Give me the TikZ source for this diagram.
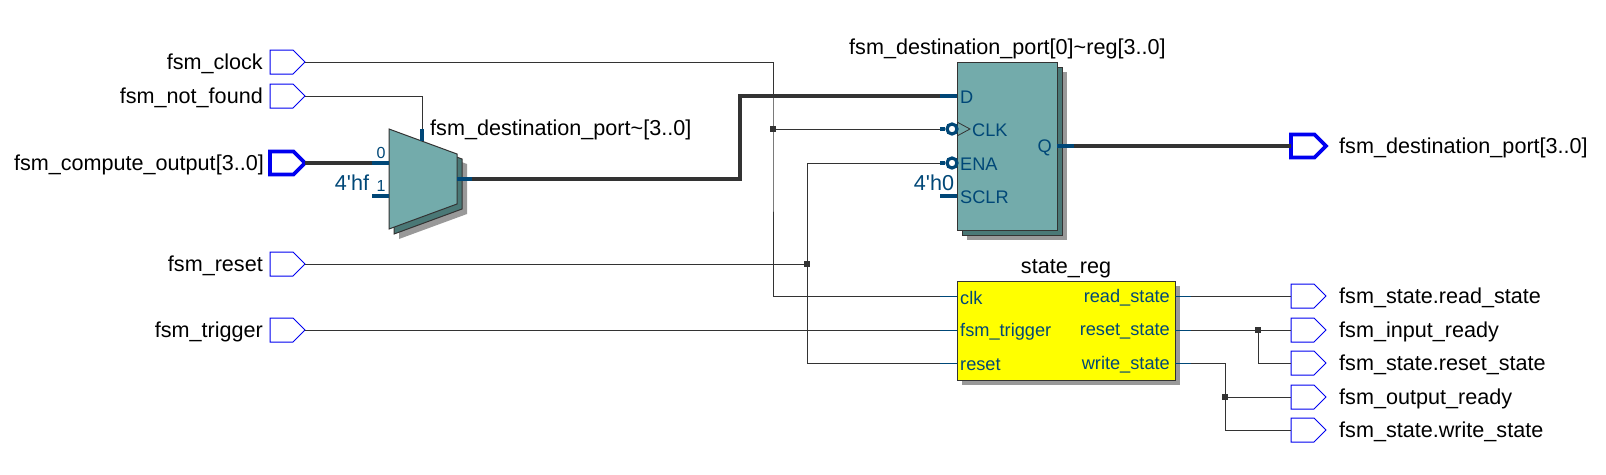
\documentclass[tikz,border=0pt]{standalone}
\usepackage{fontspec}
\setmainfont{Liberation Sans}
\usetikzlibrary{positioning,shapes.symbols}
\definecolor{pinblue}{HTML}{0000F0}
\definecolor{wirecol}{HTML}{333333}
\definecolor{portcol}{HTML}{004777}
\definecolor{bodycol}{HTML}{73ABAB}
\definecolor{backcol}{HTML}{4A7876}
\definecolor{shadecol}{HTML}{999999}
\definecolor{yellowcol}{HTML}{FFFF00}

\begin{document}
\begin{tikzpicture}[x=1pt,y=-1pt,
        pin/.style={signal,signal to=east,signal from=nowhere,draw=pinblue,fill=white,line width=1pt,
          minimum width=35pt,minimum height=24pt,inner sep=0pt,outer sep=0pt,anchor=west},
        buspin/.style={pin,line width=3.6pt,minimum width=35pt,minimum height=23pt},
        lbl/.style={font=\fontsize{21.6}{24}\selectfont,text=black,inner sep=0pt,yshift=-2pt},
        port/.style={font=\fontsize{18.2}{20}\selectfont,text=portcol,inner sep=0pt,yshift=-1.5pt},
        const/.style={font=\fontsize{21.6}{24}\selectfont,text=portcol,inner sep=0pt},
        wire/.style={draw=wirecol,line width=1pt},
        bus/.style={draw=wirecol,line width=4pt},
        stub/.style={draw=portcol,line width=1pt},
        busstub/.style={draw=portcol,line width=3.6pt},
        junction/.style={fill=wirecol,minimum size=5.5pt,inner sep=0pt},
        bubble/.style={circle,draw=portcol,fill=white,line width=3.2pt,minimum size=10pt,inner sep=0pt},
        block/.style={draw=wirecol,line width=1pt,inner sep=0pt,outer sep=0pt},
        arr/.style={draw=wirecol,line width=0.8pt}]
        \useasboundingbox (0,0) rectangle (1606,474);
        % input pins
        \node[pin](clockpin) at (270,62){};
        \node[pin](notfoundpin) at (270,96){};
        \node[buspin](computepin) at (270,163){};
        \node[pin](resetpin) at (270,264){};
        \node[pin](triggerpin) at (270,330){};
        \node[lbl,left=7pt of clockpin](clocklbl){fsm\_clock};
        \node[lbl,left=7pt of notfoundpin](notfoundlbl){fsm\_not\_found};
        \node[lbl,left=6pt of computepin](computelbl){fsm\_compute\_output[3..0]};
        \node[lbl,left=7pt of resetpin](resetlbl){fsm\_reset};
        \node[lbl,left=7pt of triggerpin](triggerlbl){fsm\_trigger};
        % mux
        \fill[shadecol] (399,139)--(467,164)--(467,214)--(399,239)--cycle;
        \draw[block,fill=backcol] (394,134)--(462,159)--(462,209)--(394,234)--cycle;
        \draw[block,fill=bodycol] (389,129)--(457,154)--(457,204)--(389,229)--cycle;
        \coordinate (muxsel) at (422,141);
        \coordinate (seltop) at (422,129);
        \coordinate (muxa) at (389,163);
        \coordinate (muxb) at (389,196);
        \coordinate (muxout) at (457,179);
        \coordinate (astub) at (372,163);
        \coordinate (bstub) at (372,196);
        \coordinate (outstub) at (472,179);
        \node[port,font=\fontsize{16}{18}\selectfont](zero) at (381,151){0};
        \node[port,font=\fontsize{16}{18}\selectfont](one) at (381,184){1};
        \node[const](hf) at (352,183){4\textquotesingle hf};
        \node[lbl,anchor=west](muxlbl) at (430,128){fsm\_destination\_port\textasciitilde[3..0]};
        % register
        \node[fill=shadecol,minimum width=100pt,minimum height=168pt,inner sep=0pt,outer sep=0pt](regshade) at (1017,156){};
        \node[block,fill=backcol,minimum width=100pt,minimum height=168pt](regback) at (1012,151){};
        \node[block,fill=bodycol,minimum width=100pt,minimum height=168pt](reg) at (1007,146){};
        \node[lbl,anchor=west](reglbl) at (849,47){fsm\_destination\_port[0]\textasciitilde reg[3..0]};
        \node[port,anchor=west](dport) at (960,96){D};
        \node[port,anchor=west](clkport) at (972,129){CLK};
        \node[port,anchor=west](enaport) at (960,163){ENA};
        \node[port,anchor=west](sclrport) at (960,196){SCLR};
        \node[port,anchor=east](qport) at (1052,146){Q};
        \node[const](hzero) at (934,183){4\textquotesingle h0};
        \coordinate (clktop) at (957,122);
        \coordinate (clkbot) at (957,136);
        \coordinate (clktip) at (970,129);
        \draw[arr] (clktop)--(clktip)--(clkbot);
        \node[bubble](clkbubble) at (952,129){};
        \node[bubble](enabubble) at (952,163){};
        \coordinate (dstub) at (940,96);
        \coordinate (clkstub) at (940,129);
        \coordinate (enastub) at (940,163);
        \coordinate (sclrstub) at (940,196);
        \coordinate (qstub) at (1074,146);
        % state machine
        \node[fill=shadecol,minimum width=218pt,minimum height=99pt,inner sep=0pt,outer sep=0pt](stateshade) at (1071,335.5){};
        \node[block,fill=yellowcol,minimum width=218pt,minimum height=99pt](statereg) at (1066,330.5){};
        \node[lbl,above=5pt of statereg](statelbl){state\_reg};
        \node[port,anchor=west](sclk) at (960,296){clk};
        \node[port,anchor=west](strigger) at (960,330){fsm\_trigger};
        \node[port,anchor=west](sreset) at (960,363){reset};
        \node[port,anchor=east](sread) at (1170,296){read\_state};
        \node[port,anchor=east](sresetst) at (1170,330){reset\_state};
        \node[port,anchor=east](swrite) at (1170,363){write\_state};
        \coordinate (clkin) at (940,296);
        \coordinate (trigin) at (940,330);
        \coordinate (rstin) at (940,363);
        \coordinate (readout) at (1191,296);
        \coordinate (rstout) at (1191,330);
        \coordinate (writeout) at (1191,363);
        % output pins
        \node[buspin](destpin) at (1291,146){};
        \node[pin](readpin) at (1291,296){};
        \node[pin](inputpin) at (1291,330){};
        \node[pin](resetstpin) at (1291,363){};
        \node[pin](outputpin) at (1291,397){};
        \node[pin](writepin) at (1291,430){};
        \node[lbl,right=13pt of destpin](destlbl){fsm\_destination\_port[3..0]};
        \node[lbl,right=13pt of readpin](readlbl){fsm\_state.read\_state};
        \node[lbl,right=13pt of inputpin](inputlbl){fsm\_input\_ready};
        \node[lbl,right=13pt of resetstpin](resetstlbl){fsm\_state.reset\_state};
        \node[lbl,right=13pt of outputpin](outputlbl){fsm\_output\_ready};
        \node[lbl,right=13pt of writepin](writelbl){fsm\_state.write\_state};
        % junctions
        \node[junction](clkdot) at (773,129){};
        \node[junction](rstdot) at (807,264){};
        \node[junction](rdydot) at (1258,330){};
        \node[junction](wrdot) at (1225,397){};
        % wires
        \draw[wire](clockpin.east)-|(clkdot.center)|-(clkin);
        \draw[wire](clkdot.center)--(clkstub);
        \draw[wire](notfoundpin.east)-|(seltop);
        \draw[busstub](seltop)--(muxsel);
        \draw[bus](computepin.east)--(astub);
        \draw[busstub](astub)--(muxa);
        \draw[busstub](bstub)--(muxb);
        \draw[busstub](muxout)--(outstub);
        \draw[bus](outstub)-|(740,96)--(dstub);
        \draw[busstub](dstub)--(dstub-|reg.west);
        \draw[busstub](clkstub)--(clkbubble);
        \draw[busstub](enastub)--(enabubble);
        \draw[busstub](sclrstub)--(sclrstub-|reg.west);
        \draw[wire](resetpin.east)--(rstdot.center);
        \draw[wire](enastub)-|(rstdot.center)|-(rstin);
        \draw[wire](triggerpin.east)--(trigin);
        \draw[busstub](qstub-|reg.east)--(qstub);
        \draw[bus](qstub)--(destpin.west);
        \draw[wire](readout)--(readpin.west);
        \draw[wire](rstout)--(inputpin.west);
        \draw[wire](rdydot.center)|-(resetstpin.west);
        \draw[wire](writeout)-|(wrdot.center)|-(writepin.west);
        \draw[wire](wrdot.center)--(outputpin.west);
        \draw[stub](clkin)--(clkin-|statereg.west);
        \draw[stub](trigin)--(trigin-|statereg.west);
        \draw[stub](rstin)--(rstin-|statereg.west);
        \draw[stub](readout-|statereg.east)--(readout);
        \draw[stub](rstout-|statereg.east)--(rstout);
        \draw[stub](writeout-|statereg.east)--(writeout);
      \end{tikzpicture}
\end{document}
